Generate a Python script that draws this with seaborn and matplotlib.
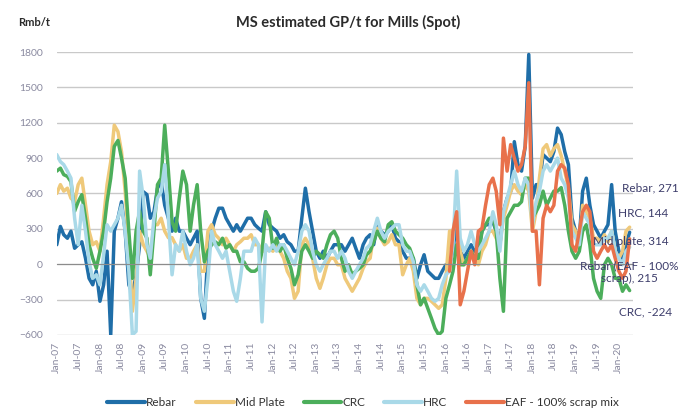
import numpy as np
import pandas as pd
import matplotlib
matplotlib.use("Agg")
import matplotlib.pyplot as plt
import matplotlib.dates as mdates
import seaborn as sns

# monthly points, Jan-07 .. Apr-20
dates = pd.date_range("2007-01-01", "2020-04-01", freq="MS")

rebar = [165, 320, 250, 220, 280, 135, 165, 190, 50, -120, -175, -60,
         -315, -175, 110, -600, 280, 390, 530, 280, -175, -250, -100, 165,
         615, 590, 390, 445, 645, 700, 500, 390, 280, 390, 280, 280,
         220, 165, 220, 280, -290, -460, 110, 280, 390, 475, 475, 390,
         335, 280, 335, 280, 335, 390, 390, 335, 305, 280, 445, 335,
         305, 280, 220, 250, 190, 165, 110, 110, 390, 645, 445, 280,
         110, 50, 110, 50, 110, 165, 165, 165, 110, 165, 220, 135,
         50, 165, 220, 250, 165, 335, 280, 250, 280, 335, 220, 190,
         110, 50, 50, 50, -120, -5, 80, -60, -90, -120, -120, -60,
         -5, -5, 110, 390, 110, 50, 110, 165, 110, 135, 280, 335,
         335, 360, 280, 165, 445, 560, 615, 1040, 845, 790, 1000, 1780,
         560, 675, 675, 930, 900, 870, 955, 1155, 1100, 955, 845, 390,
         280, 220, 620, 730, 500, 335, 280, 220, 280, 335, 675, 280,
         110, 50, 165, 271]

mid_plate = [600, 675, 620, 645, 560, 530, 675, 730, 500, 280, 165, 190,
             110, 390, 675, 870, 1180, 1125, 955, 620, 165, -400, -120, 280,
             165, 110, 50, 335, 335, 390, 280, 225, 225, 165, 110, 165,
             50, 50, 110, 165, -60, -60, 280, 335, 250, 220, 165, 220,
             165, 110, 165, 190, 220, 220, 250, 165, 165, 110, 110, 135,
             110, 165, 110, 50, -60, -120, -290, -230, 165, 220, 165, 50,
             -120, -205, -120, -5, 50, 50, -5, -5, -120, -175, -230, -175,
             -120, -35, 20, 50, 250, 305, 220, 165, 190, 250, 165, 165,
             -90, -5, 50, -60, -290, -345, -290, -290, -315, -345, -375, -345,
             -120, 280, 280, 445, 110, -5, 20, 110, 50, -5, 110, 165,
             280, 280, 220, 165, 390, 500, 620, 675, 620, 590, 675, 620,
             280, 445, 730, 980, 1015, 920, 980, 1015, 920, 790, 645, 335,
             280, 165, 500, 445, 390, 220, 220, 190, 250, 190, 280, 110,
             50, 110, 280, 314]

crc = [790, 815, 760, 745, 700, 450, 530, 590, 390, 165, 50, -35,
       110, 280, 530, 730, 1000, 1050, 900, 730, 280, -120, 280, 450,
       280, 220, -90, 280, 675, 730, 1180, 790, 360, 280, 560, 790,
       675, 280, 500, 675, 280, 20, 110, 165, 190, 165, 220, 135,
       165, 110, 110, 20, 20, -35, -60, -60, -35, 110, 445, 390,
       135, 220, 110, 165, 50, -35, -175, -90, 110, 165, 110, 50,
       110, 80, 50, 165, 250, 280, 220, 50, -60, -5, -90, -60,
       -35, -5, 80, 110, 190, 280, 220, 190, 335, 360, 280, 250,
       220, 165, 135, 50, -175, -345, -290, -375, -460, -545, -600, -570,
       -290, -175, -60, 165, -5, -5, 50, 110, 50, 50, 280, 335,
       390, 390, 280, -120, -400, 390, 445, 500, 500, 530, 730, 730,
       390, 445, 500, 620, 500, 560, 620, 620, 650, 500, 280, 110,
       50, 110, 280, 335, 165, -120, -230, -290, -5, 50, -5, -120,
       -120, -230, -175, -224]

hrc = [930, 870, 845, 790, 730, 390, 165, 500, 280, 20, -120, -90,
       -175, 80, 335, 280, 335, 390, 500, 280, -60, -600, -570, 790,
       560, 165, 50, 390, 560, 615, 845, 390, -90, 165, 110, 280,
       110, -5, 50, 165, -290, -400, -120, 280, 165, 110, 50, 110,
       -60, -230, -315, -120, 110, 110, 110, 220, 165, -490, 165, 110,
       165, 110, 165, 165, 110, 50, -5, 110, 280, 335, 280, 110,
       -5, -60, -5, 50, 110, 110, 50, 110, 50, -60, -120, -60,
       -5, 50, 135, 165, 280, 390, 280, 220, 280, 305, 335, 335,
       165, 110, 110, 20, -175, -230, -175, -230, -290, -315, -290, -175,
       -90, -60, 165, 790, 220, 110, 165, 280, 165, 110, 165, 220,
       280, 445, 335, 110, 445, 560, 675, 790, 675, 620, 730, 675,
       335, 530, 620, 790, 845, 790, 845, 900, 730, 675, 560, 280,
       220, 165, 445, 390, 335, 165, 165, 165, 220, 220, 280, 110,
       50, -5, 110, 144]

# EAF series starts Feb-16
eaf_start = "2016-02-01"
eaf = [-60, 280, 445, -345, -230, -60, 110, -5, 280, 305, 500,
       675, 730, 620, 335, 1070, 790, 1015, 900, 790, 845, 1000, 1540,
       280, 280, -175, 390, 500, 445, 500, 790, 845, 815, 675, 165,
       110, 280, 445, 500, 445, 110, 50, 110, 165, 110, 165, 50,
       -60, -120, -60, 215]

names = ["Rebar", "Mid Plate", "CRC", "HRC", "EAF - 100% scrap mix"]
colors = ["#1f6ea8", "#efc97a", "#4cae5b", "#a9d9e8", "#e8714b"]

annotations = ["Rebar, 271", "HRC, 144", "Mid plate, 314",
               "Rebar (EAF - 100%\nscrap), 215", "CRC, -224"]

df = pd.DataFrame({"date": dates, "Rebar": rebar, "Mid Plate": mid_plate,
                   "CRC": crc, "HRC": hrc})
df["EAF - 100% scrap mix"] = np.nan
df.loc[df["date"] >= eaf_start, "EAF - 100% scrap mix"] = eaf
long = df.melt(id_vars="date", var_name="series", value_name="gp").dropna()

sns.set_style("white")
plt.rcParams["font.family"] = ["Lato", "DejaVu Sans"]

fig, ax = plt.subplots(figsize=(6.92, 4.17), dpi=100)
fig.subplots_adjust(left=0.082, right=0.915, top=0.875, bottom=0.197)

sns.lineplot(data=long, x="date", y="gp", hue="series", hue_order=names,
             palette=dict(zip(names, colors)), linewidth=2.5, estimator=None,
             ax=ax)

handles, labels = ax.get_legend_handles_labels()
ax.get_legend().remove()
for h in handles:
    h.set_linewidth(3)
fig.legend(handles, labels, loc="lower center", bbox_to_anchor=(0.525, -0.005),
           ncol=5, frameon=False, fontsize=8.5, handlelength=3.2,
           handletextpad=0.1, columnspacing=1.6, labelcolor="#333333")

ax.set_ylim(-600, 1800)
ax.set_yticks(range(-600, 1801, 300))
ax.set_xlim(pd.Timestamp("2007-01-01"), pd.Timestamp("2020-05-01"))
ax.grid(axis="y", color="#c9c9c9", linewidth=1)
ax.set_axisbelow(True)
ax.set_xlabel("")
ax.set_ylabel("")
for s in ["left", "right", "top"]:
    ax.spines[s].set_visible(False)
ax.spines["bottom"].set_position(("data", 0))
ax.spines["bottom"].set_color("#8c8c8c")
ax.tick_params(axis="y", length=0, labelsize=7.5, labelcolor="#8a8aa0", pad=10)

loc = mdates.MonthLocator(bymonth=[1, 7])
ax.xaxis.set_major_locator(loc)
ax.tick_params(axis="x", direction="out", length=4, color="#8c8c8c",
               labelbottom=False)

sec = ax.secondary_xaxis(0)
sec.xaxis.set_major_locator(mdates.MonthLocator(bymonth=[1, 7]))
sec.xaxis.set_major_formatter(mdates.DateFormatter("%b-%y"))
sec.spines["bottom"].set_visible(False)
sec.tick_params(axis="x", length=0, labelsize=7.5, labelrotation=90,
                labelcolor="#8a8aa0", pad=5)

fig.text(0.503, 0.945, "MS estimated GP/t for Mills (Spot)", ha="center",
         va="center", fontsize=10.5, fontweight="bold", color="#2b2b2b")
fig.text(0.026, 0.945, "Rmb/t", ha="left", va="center", fontsize=8,
         fontweight="bold", color="#2b2b2b")

ann_pos = [(0.899, 0.549, "left"), (0.893, 0.489, "left"),
           (0.857, 0.422, "left"), (0.910, 0.347, "center"),
           (0.894, 0.252, "left")]
for (x, y, ha), t in zip(ann_pos, annotations):
    fig.text(x, y, t, ha=ha, va="center", fontsize=8.5, color="#3d3d6b",
             multialignment="center")

fig.savefig("out.png", dpi=100)
